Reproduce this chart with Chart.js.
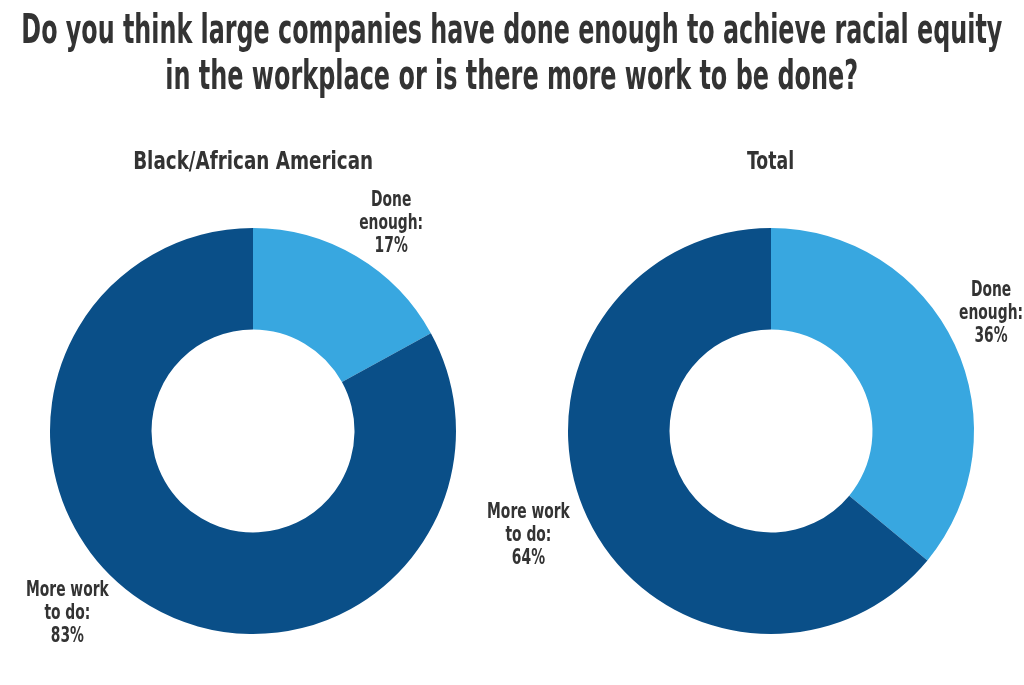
<!DOCTYPE html>
<html>
<head>
<meta charset="utf-8">
<script src="https://cdn.jsdelivr.net/npm/chart.js@4.4.1/dist/chart.umd.min.js"></script>
<style>
  html, body { margin: 0; padding: 0; background: #fff; }
  body { width: 1024px; height: 685px; position: relative; overflow: hidden;
         font-family: 'DejaVu Sans Condensed', 'Liberation Sans Narrow', sans-serif; color: #333; }
  .txt { position: absolute; font-weight: bold; white-space: nowrap; transform-origin: center top; }
  .title { font-size: 40px; }
  .sub { font-size: 25px; top: 146px; }
  canvas { position: absolute; left: 0; top: 0; }
</style>
</head>
<body>
<div style="position:absolute;left:0;top:0;width:1024px;height:685px"><canvas id="c1"></canvas></div>
<div style="position:absolute;left:0;top:0;width:1024px;height:685px"><canvas id="c2"></canvas></div>
<div class="txt title" id="t1" data-cx="512" data-w="981" style="top:6px">Do you think large companies have done enough to achieve racial equity</div>
<div class="txt title" id="t2" data-cx="512" data-w="693" style="top:52px">in the workplace or is there more work to be done?</div>
<div class="txt sub" id="s1" data-cx="253" data-w="240">Black/African American</div>
<div class="txt sub" id="s2" data-cx="771" data-w="47">Total</div>
<script>
const categories = ["Done enough:", "More work to do:"];
const labelLines = [["Done", "enough:"], ["More work", "to do:"]];
const blackValues = [17, 83];
const totalValues = [36, 64];
const colors = ["#38a7e0", "#0a4f88"];

// fit text widths to the condensed look of the original
document.querySelectorAll('.txt').forEach(el => {
  const w = el.getBoundingClientRect().width;
  const target = +el.dataset.w, cx = +el.dataset.cx;
  el.style.left = (cx - w / 2) + 'px';
  el.style.transform = 'scaleX(' + (target / w) + ')';
});

const FONT = "bold 22px 'DejaVu Sans Condensed', 'Liberation Sans Narrow', sans-serif";
const SQUEEZE = 0.7;

function labelPlugin(angleShift, dist) {
  return {
    id: 'sliceLabels',
    afterDraw(chart) {
      const ctx = chart.ctx;
      const meta = chart.getDatasetMeta(0);
      const vals = chart.data.datasets[0].data;
      ctx.save();
      ctx.font = FONT;
      ctx.fillStyle = '#333';
      ctx.textAlign = 'center';
      ctx.textBaseline = 'middle';
      meta.data.forEach((arc, i) => {
        const p = arc.getProps(['x', 'y', 'startAngle', 'endAngle', 'outerRadius'], true);
        const a = (p.startAngle + p.endAngle) / 2 + angleShift[i] * Math.PI / 180;
        const r = p.outerRadius * dist[i];
        const cx = p.x + Math.cos(a) * r;
        const cy = p.y + Math.sin(a) * r;
        const lines = labelLines[i].concat([vals[i] + '%']);
        const lh = 23;
        lines.forEach((ln, k) => {
          ctx.save();
          ctx.translate(cx, cy + (k - (lines.length - 1) / 2) * lh);
          ctx.scale(SQUEEZE, 1);
          ctx.fillText(ln, 0, 0);
          ctx.restore();
        });
      });
      ctx.restore();
    }
  };
}

function makeChart(id, values, pad, angleShift, dist) {
  return new Chart(document.getElementById(id), {
    type: 'doughnut',
    data: {
      labels: categories,
      datasets: [{ data: values, backgroundColor: colors, borderWidth: 0, hoverOffset: 0 }]
    },
    options: {
      responsive: true,
      maintainAspectRatio: false,
      animation: false,
      cutout: '50%',
      layout: { padding: pad },
      plugins: { legend: { display: false }, tooltip: { enabled: false }, title: { display: false } }
    },
    plugins: [labelPlugin(angleShift, dist)]
  });
}

makeChart('c1', blackValues, { left: 50, right: 568, top: 228, bottom: 51 }, [3, 15], [1.23, 1.28]);
makeChart('c2', totalValues, { left: 568, right: 50, top: 228, bottom: 51 }, [-3, 2], [1.23, 1.3]);
</script>
</body>
</html>
